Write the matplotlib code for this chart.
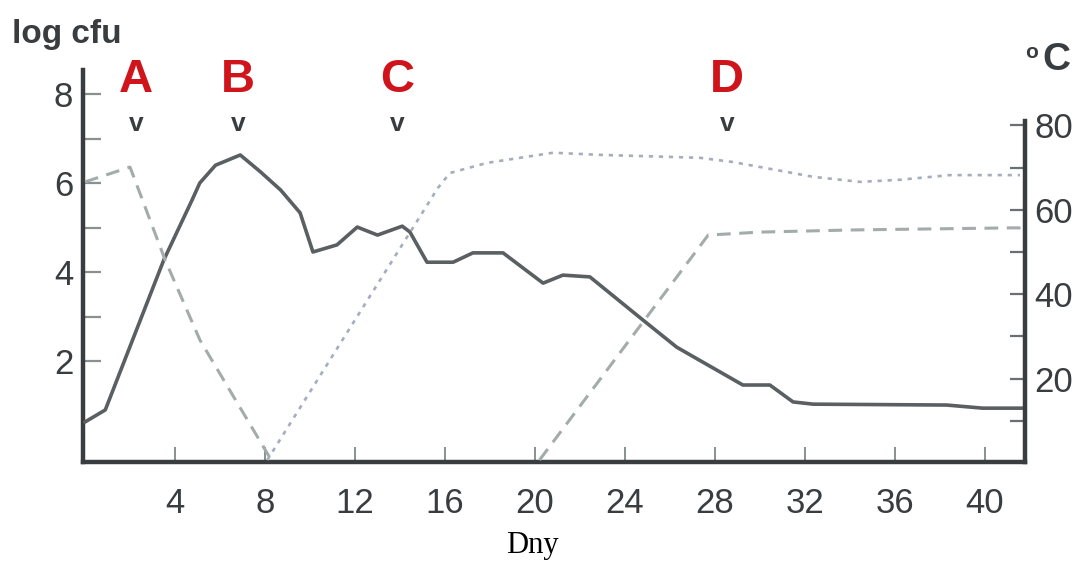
import matplotlib
matplotlib.use("Agg")
import matplotlib.pyplot as plt

# log cfu (levá osa)
cfu_days = [0, 0.9, 3.5, 4.76, 5.1, 5.8, 6.9, 7.8, 8.7, 9.56, 10.13, 11.2, 12.1, 13.0, 14.1,
            14.44, 15.2, 16.36, 17.24, 18.58, 20.36, 21.24, 22.44, 24.8, 26.3, 29.24, 30.44,
            31.47, 32.36, 38.3, 39.9, 41.7]
cfu_vals = [0.63, 0.9, 4.27, 5.62, 6.0, 6.4, 6.63, 6.25, 5.84, 5.33, 4.45, 4.61, 5.01, 4.83, 5.03,
            4.9, 4.22, 4.22, 4.43, 4.43, 3.75, 3.93, 3.89, 2.92, 2.31, 1.46, 1.46,
            1.08, 1.03, 1.01, 0.94, 0.94]

# teplota - čárkovaná
temp1_days = [0, 2.0, 3.56, 5.11, 8.2]
temp1_vals = [66.6, 70.1, 48.1, 29.1, 1.4]
temp2_days = [20.2, 27.7, 30.0, 34.0, 41.1, 41.7]
temp2_vals = [0.7, 54.0, 54.7, 55.2, 55.7, 55.7]

# teplota - tečkovaná
temp3_days = [8.1, 11.33, 15.69, 16.22, 17.87, 20.8, 22.89, 27.33, 28.8, 32.36, 34.44, 36.22, 38.44, 41.56]
temp3_vals = [0.7, 28.2, 65.2, 68.7, 71.1, 73.5, 73.0, 72.3, 71.3, 67.8, 66.6, 67.1, 68.2, 68.2]

phases = ["A", "B", "C", "D"]
phase_days = [2.27, 6.8, 13.87, 28.53]

x_ticks = [4, 8, 12, 16, 20, 24, 28, 32, 36, 40]

plt.rcParams["font.family"] = ["Liberation Sans", "DejaVu Sans"]
ink = "#3a3d40"

fig = plt.figure(figsize=(10.84, 5.63), dpi=100)
ax1 = fig.add_axes([83 / 1084, 1 - 462 / 563, (1025 - 83) / 1084, 392 / 563])
ax2 = ax1.twinx()

ax1.plot(cfu_days, cfu_vals, color="#5a5f62", linewidth=2.6, solid_joinstyle="round", zorder=3)
ax2.plot(temp1_days, temp1_vals, color="#a3abab", linewidth=2.2, dashes=(4.5, 2.8))
ax2.plot(temp2_days, temp2_vals, color="#a3abab", linewidth=2.2, dashes=(4.5, 2.8))
ax2.plot(temp3_days, temp3_vals, color="#a6adbb", linewidth=1.9, dashes=(1.6, 2.2))

ax1.set_xlim(-0.09, 41.78)
ax1.set_ylim(-0.27, 8.54)
ax2.set_ylim(0.24, 93.1)

for a in (ax1, ax2):
    for s in a.spines.values():
        s.set_visible(False)

ax1.spines["left"].set_visible(True)
ax1.spines["bottom"].set_visible(True)
ax2.spines["right"].set_visible(True)
for s in (ax1.spines["left"], ax1.spines["bottom"], ax2.spines["right"]):
    s.set_color(ink)
    s.set_linewidth(3.2)
ax2.spines["right"].set_bounds(0.24, 81)

ax1.set_xticks(x_ticks)
ax1.set_yticks([2, 4, 6, 8])
ax1.set_yticks([3, 5, 7], minor=True)
ax2.set_yticks([20, 40, 60, 80])
ax2.set_yticks([10, 30, 50, 70], minor=True)

ax1.tick_params(axis="x", direction="in", length=11, width=1.4, color="#8a8f92",
                labelsize=25, labelcolor=ink, pad=18)
ax1.tick_params(axis="y", which="both", direction="in", length=13, width=1.6, color="#8a8f92",
                labelsize=25, labelcolor=ink, pad=7)
ax2.tick_params(axis="y", which="both", direction="in", length=11, width=1.6, color="#6a6f72",
                labelsize=25, labelcolor=ink, pad=7)

for letter, d in zip(phases, phase_days):
    ax1.text(d, 0.974, letter, transform=ax1.get_xaxis_transform(), ha="center", va="center",
             color="#d0141c", fontsize=34, fontweight="bold", clip_on=False)
    ax1.text(d, 0.862, "v", transform=ax1.get_xaxis_transform(), ha="center", va="center",
             color=ink, fontsize=19, fontweight="bold", clip_on=False)

fig.text(12 / 1084, 1 - 43 / 563, "log cfu", fontsize=24, fontweight="bold", color=ink,
         ha="left", va="baseline")
fig.text(1032 / 1084, 1 - 52 / 563, "o", fontsize=15, fontweight="bold", color=ink,
         ha="center", va="center")
fig.text(1056 / 1084, 1 - 60 / 563, "C", fontsize=28, fontweight="bold", color=ink,
         ha="center", va="center")
fig.text(532 / 1084, 1 - 553 / 563, "Dny", fontsize=22, family="Liberation Serif",
         color="black", ha="center", va="baseline")

fig.savefig("out.png", dpi=100)
